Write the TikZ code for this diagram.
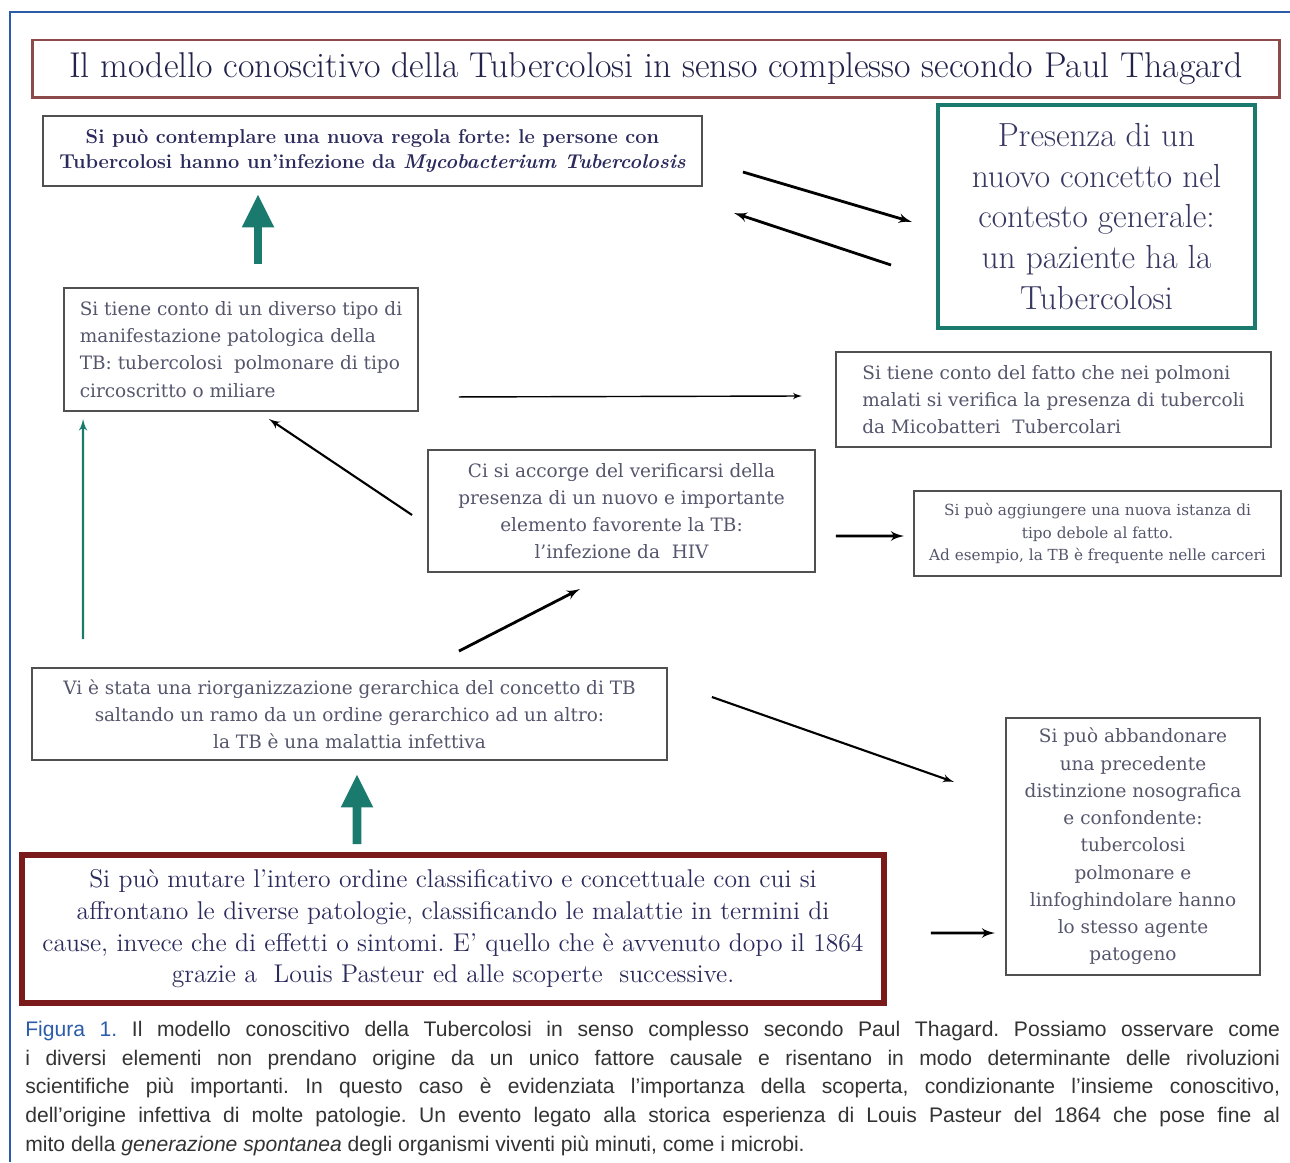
\documentclass[tikz,border=0pt]{standalone}
\usepackage{fontspec}
\usepackage{tikz}
\usepgflibrary{arrows}
\usetikzlibrary{shapes}
\usetikzlibrary{arrows.meta}
\newfontfamily\capfont{Liberation Sans}
\newfontfamily\slabfont{DejaVu Serif}
\definecolor{frameblue}{HTML}{2A5CA8}
\definecolor{titlered}{HTML}{8C4A4A}
\definecolor{darkred}{HTML}{7A1A1A}
\definecolor{tealc}{HTML}{1B7A6E}
\definecolor{boxgray}{HTML}{505050}
\definecolor{navy}{HTML}{2A2A5C}
\definecolor{slabgray}{HTML}{55556C}
\definecolor{capgray}{HTML}{333333}
\frenchspacing

\begin{document}
\begin{tikzpicture}[x=0.02cm, y=-0.02cm]
			\tikzset{plainbox/.style = {shape=rectangle, draw=boxgray, line width=1.1pt,
					inner sep = 0pt, text=slabgray}}
			\tikzset{slabtext/.style = {font=\slabfont\fontsize{10.5}{15.5}\selectfont}}
			\tikzset{edge/.style = {->,> = latex', line width=1.6pt}}
			\tikzset{thinedge/.style = {->,> = latex', line width=0.8pt}}
			\tikzset{tealedge/.style = {->,> = latex', line width=1.3pt, draw=tealc}}
			\tikzset{bigup/.style = {-{Triangle[width=17pt, length=19pt]}, line width=5pt, draw=tealc}}
			
			\useasboundingbox (0,0) rectangle (1290,1162);
			\draw[frameblue, line width=0.9pt] (10,1162) -- (10,12) -- (1290,12);
			
			% vertices
			\node[plainbox, draw=titlered, line width=1.7pt, minimum width=24.96cm, minimum height=1.16cm,
				text=navy!80!black, font=\fontsize{20.4}{24}\selectfont] (title) at (656,69)
				{Il modello conoscitivo della Tubercolosi in senso complesso secondo Paul Thagard};
			
			\node[plainbox, minimum width=13.18cm, minimum height=1.4cm, align=center, text=navy,
				font=\bfseries\fontsize{11.4}{14.2}\selectfont] (rule) at (372.5,151)
				{Si può contemplare una nuova regola forte: le persone con\\
				Tubercolosi hanno un’infezione da \textit{Mycobacterium Tubercolosis}};
			
			\node[plainbox, draw=tealc, line width=2.3pt, minimum width=6.34cm, minimum height=4.46cm,
				align=center, text=navy!85!gray, font=\fontsize{19}{23.2}\selectfont] (concept) at (1096.5,216.5)
				{Presenza di un\\ nuovo concetto nel\\ contesto generale:\\ un paziente ha la\\ Tubercolosi};
			
			\node[plainbox, slabtext, minimum width=7.08cm, minimum height=2.46cm, align=left] (form) at (241,349.5)
				{Si tiene conto di un diverso tipo di\\ manifestazione patologica della\\
				TB: tubercolosi\ \ polmonare di tipo\\ circoscritto o miliare};
			
			\node[plainbox, slabtext, minimum width=8.7cm, minimum height=1.9cm, align=left] (lungs) at (1053.5,399.5)
				{Si tiene conto del fatto che nei polmoni\\ malati si verifica la presenza di tubercoli\\
				da Micobatteri\ \ Tubercolari};
			
			\node[plainbox, slabtext, minimum width=7.74cm, minimum height=2.44cm, align=center] (hiv) at (621.5,511)
				{Ci si accorge del verificarsi della\\ presenza di un nuovo e importante\\
				elemento favorente la TB:\\ l’infezione da\ \ HIV};
			
			\node[plainbox, minimum width=7.34cm, minimum height=1.7cm, align=center,
				font=\slabfont\fontsize{8.7}{13}\selectfont] (weak) at (1097.5,533.5)
				{Si può aggiungere una nuova istanza di\\ tipo debole al fatto.\\
				Ad esempio, la TB è frequente nelle carceri};
			
			\node[plainbox, slabtext, minimum width=12.7cm, minimum height=1.84cm, align=center] (hier) at (349.5,714)
				{Vi è stata una riorganizzazione gerarchica del concetto di TB\\
				saltando un ramo da un ordine gerarchico ad un altro:\\ la TB è una malattia infettiva};
			
			\node[plainbox, slabtext, minimum width=5.08cm, minimum height=5.14cm, align=center] (noso) at (1133,846.5)
				{Si può abbandonare\\ una precedente\\ distinzione nosografica\\ e confondente:\\
				tubercolosi\\ polmonare e\\ linfoghindolare hanno\\ lo stesso agente\\ patogeno};
			
			\node[plainbox, draw=darkred, line width=3.4pt, minimum width=17.24cm, minimum height=2.96cm,
				align=center, text=navy, font=\fontsize{14.6}{18}\selectfont] (pasteur) at (453,929)
				{Si può mutare l’intero ordine classificativo e concettuale con cui si\\
				affrontano le diverse patologie, classificando le malattie in termini di\\
				cause, invece che di effetti o sintomi. E’ quello che è avvenuto dopo il 1864\\
				grazie a\ \ Louis Pasteur ed alle scoperte\ \ successive.};
			
			\node[anchor=north west, inner sep=0pt, text width=25.1cm, align=justify, text=capgray,
				font=\capfont\fontsize{12}{16.3}\selectfont] (caption) at (25,1021)
				{\textcolor{frameblue}{Figura 1.} Il modello conoscitivo della Tubercolosi in senso complesso secondo Paul Thagard. Possiamo osservare come\linebreak
				i diversi elementi non prendano origine da un unico fattore causale e risentano in modo determinante delle rivoluzioni\linebreak
				scientifiche più importanti. In questo caso è evidenziata l’importanza della scoperta, condizionante l’insieme conoscitivo,\linebreak
				dell’origine infettiva di molte patologie. Un evento legato alla storica esperienza di Louis Pasteur del 1864 che pose fine al\linebreak
				mito della \textit{generazione spontanea} degli organismi viventi più minuti, come i microbi.};
			
			%edges
			
			\draw[edge] ([shift={(40,21)}]rule.east) to ([shift={(-24,5.5)}]concept.west);
			\draw[edge] ([shift={(-45,48.5)}]concept.west) to ([shift={(31,62)}]rule.east);
			\draw[bigup] ([shift={(17,-23)}]form.north) to ([shift={(-114.5,7)}]rule.south);
			\draw[tealedge] ([shift={(52,-28)}]hier.north west) to ([shift={(20,7)}]form.south west);
			\draw[edge, line width=1.2pt] ([shift={(-15,4)}]hiv.west) to ([shift={(-150,7)}]form.south east);
			\draw[thinedge] ([shift={(40,-15)}]form.south east) to ([shift={(-33,-3.5)}]lungs.west);
			\draw[edge] ([shift={(20,25)}]hiv.east) to ([shift={(-9,2.5)}]weak.west);
			\draw[edge] ([shift={(109.5,-16)}]hier.north) to ([shift={(-41.5,16)}]hiv.south);
			\draw[edge, line width=1.2pt] ([shift={(44,-17)}]hier.east) to ([shift={(-51,-64.5)}]noso.west);
			\draw[bigup] ([shift={(-96,-8)}]pasteur.north) to ([shift={(7.5,13)}]hier.south);
			\draw[edge] ([shift={(44,4)}]pasteur.east) to ([shift={(-10,86.5)}]noso.west);
			
			\end{tikzpicture}
\end{document}
